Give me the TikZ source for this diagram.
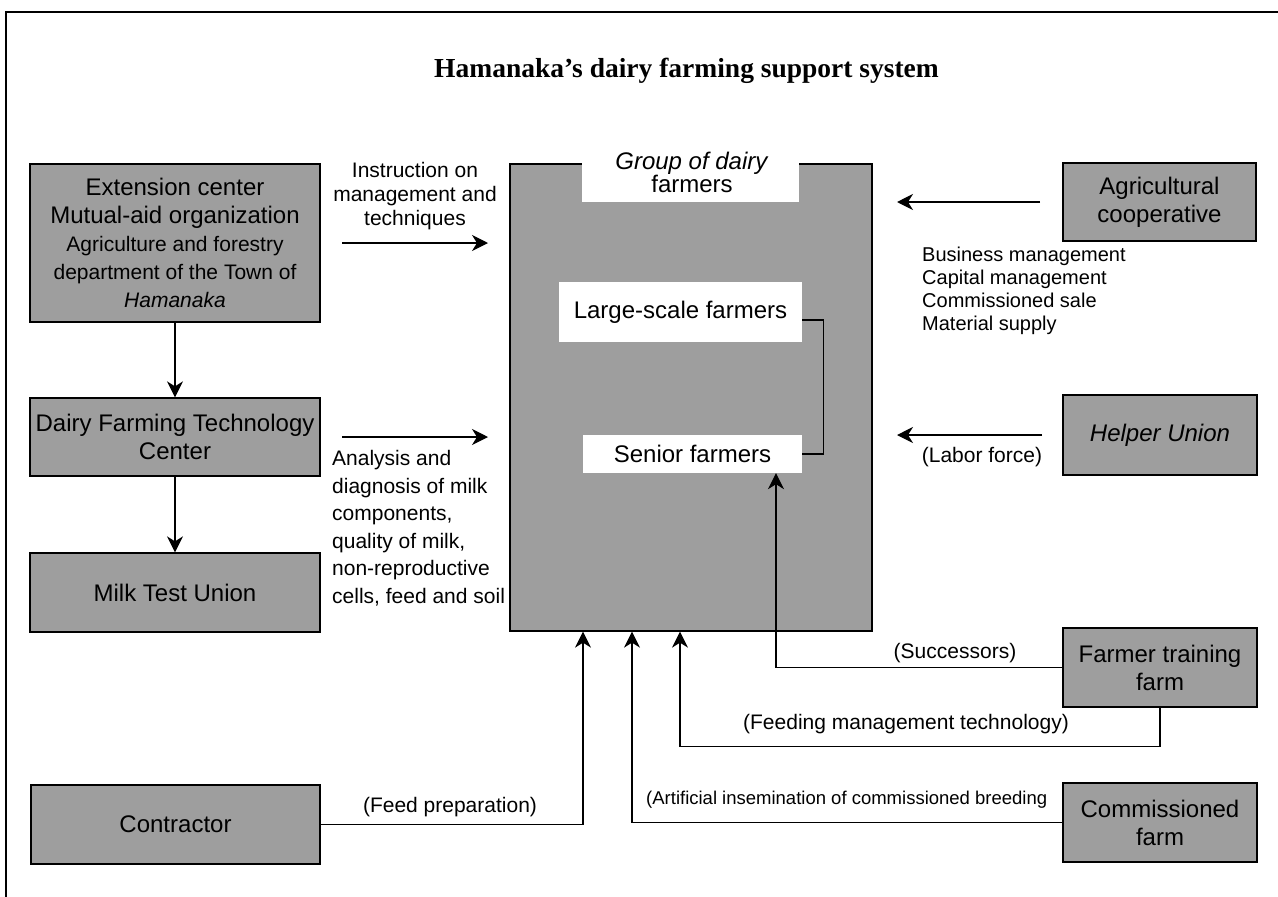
\documentclass[tikz,border=0pt]{standalone}
\usepackage{fontspec}
\setmainfont{Liberation Sans}
\newfontfamily\titlefont{Liberation Serif}
\usetikzlibrary{arrows.meta}
\begin{document}
\begin{tikzpicture}[x=1pt,y=-1pt,
  gbox/.style={draw=black, line width=1.3pt, fill=black!38, inner sep=0pt, align=center, font=\fontsize{24}{28}\selectfont},
  wbox/.style={fill=white, inner sep=0pt, font=\fontsize{24}{28}\selectfont},
  lbl/.style={inner sep=0pt, font=\fontsize{21}{24}\selectfont},
  conn/.style={line width=1.2pt},
  arr/.style={conn, -{Stealth[length=16pt,width=16pt,inset=5pt]}}
]
\useasboundingbox (0,0) rectangle (1278,897);
\fill[white] (0,0) rectangle (1278,897);
\draw[line width=1.5pt] (6,897) -- (6,12) -- (1278,12);

\node[anchor=base west, inner sep=0pt, font=\fontsize{27.5}{32}\selectfont\titlefont\bfseries] (title) at (434,77) {Hamanaka’s dairy farming support system};

% left column
\node[gbox, minimum width=290pt, minimum height=158pt] (ext) at (175,243)
  {Extension center\\Mutual-aid organization\\{\fontsize{21}{28}\selectfont Agriculture and forestry}\\{\fontsize{21}{28}\selectfont department of the Town of}\\{\fontsize{21}{28}\selectfont\itshape Hamanaka}};
\node[gbox, minimum width=290pt, minimum height=78pt] (dftc) at (175,437) {Dairy Farming Technology\\Center};
\node[gbox, minimum width=290pt, minimum height=79pt] (milk) at (175,592.5) {Milk Test Union};
\node[gbox, minimum width=289pt, minimum height=79pt] (contr) at (175.5,824.5) {Contractor};

% group of dairy farmers
\node[gbox, minimum width=362pt, minimum height=467pt] (group) at (691,397.5) {};
\node[fill=white, inner sep=0pt, minimum width=217pt, minimum height=41pt] (notch) at (690.5,181.5) {};
\node[inner sep=0pt, align=center, font=\fontsize{24}{23}\selectfont] (glabel) at (692,172) {\textit{Group of dairy}\\farmers};
\node[wbox, minimum width=243pt, minimum height=60pt] (large) at (680.5,312) {Large-scale farmers};
\node[wbox, minimum width=219pt, minimum height=38pt] (senior) at (692.5,454) {Senior farmers};
\draw[conn] ([yshift=-8pt]large.east) -- ++(21,0) |- (senior.east);

% right column
\node[gbox, minimum width=193pt, minimum height=78pt] (agri) at (1159.5,202) {Agricultural\\cooperative};
\node[gbox, minimum width=194pt, minimum height=80pt] (helper) at (1160,435) {\textit{Helper Union}};
\node[gbox, minimum width=194pt, minimum height=79pt] (ft) at (1160,667.5) {Farmer training\\farm};
\node[gbox, minimum width=194pt, minimum height=79pt] (comm) at (1160,822.5) {Commissioned\\farm};

% free arrow ends
\coordinate (i1) at (342,243); \coordinate (i2) at (488,243);
\coordinate (a1) at (342,437); \coordinate (a2) at (488,437);
\coordinate (b1) at (1040,202); \coordinate (b2) at (897,202);
\coordinate (h1) at (1042,435); \coordinate (h2) at (897,435);

% connectors
\draw[arr] (ext.south) -- (dftc.north);
\draw[arr] (dftc.south) -- (milk.north);
\draw[arr] (i1) -- (i2);
\draw[arr] (a1) -- (a2);
\draw[arr] (b1) -- (b2);
\draw[arr] (h1) -- (h2);
\draw[arr] (ft.west) -| ([xshift=83.5pt]senior.south);
\draw[arr] (ft.south) -- ++(0,39) -| ([xshift=-11pt]group.south);
\draw[arr] (comm.west) -| ([xshift=-59pt]group.south);
\draw[arr] (contr.east) -| ([xshift=-108pt]group.south);

% labels
\node[lbl, align=center] (instr) at (415,196) {Instruction on\\management and\\techniques};
\node[lbl, align=left, anchor=north west, font=\fontsize{21}{27.6}\selectfont] (anal) at (332,450)
  {Analysis and\\diagnosis of milk\\components,\\quality of milk,\\non-reproductive\\cells, feed and soil};
\node[lbl, align=left, anchor=north west, font=\fontsize{20}{23}\selectfont] (biz) at (922,247)
  {Business management\\Capital management\\Commissioned sale\\Material supply};
\node[lbl] (labor) at (982,457) {(Labor force)};
\node[lbl] (succ) at (955,653) {(Successors)};
\node[lbl] (feedm) at (906,724) {(Feeding management technology)};
\node[lbl, anchor=west, font=\fontsize{18.5}{22}\selectfont] (artif) at (646,800) {(Artificial insemination of commissioned breeding};
\node[lbl] (feedp) at (450,807) {(Feed preparation)};
\end{tikzpicture}
\end{document}
